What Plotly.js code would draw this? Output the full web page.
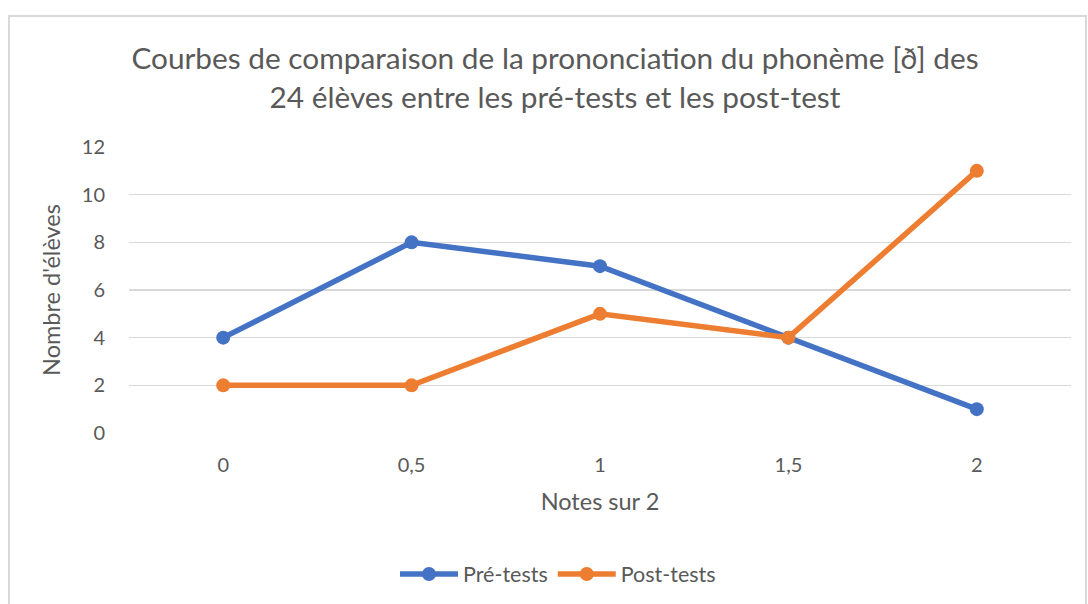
<!DOCTYPE html>
<html>
<head>
<meta charset="utf-8">
<script src="https://cdn.plot.ly/plotly-3.0.1.min.js"></script>
<style>html,body{margin:0;padding:0;background:#fff}#chart{width:1088px;height:604px}</style>
</head>
<body>
<div id="chart"></div>
<script>
const categories = ["0", "0,5", "1", "1,5", "2"];
const preTests = [4, 8, 7, 4, 1];
const postTests = [2, 2, 5, 4, 11];
const seriesNames = ["Pré-tests", "Post-tests"];
const yTicks = [0, 2, 4, 6, 8, 10, 12];

const FONT = "Lato, 'Open Sans', sans-serif";
const TXT = "#595959";

const W = 1088, H = 604;
const L = 129, R = 17, T = 147, B = 171;
const pw = W - L - R, ph = H - T - B;
const px = x => (x - L) / pw;
const py = y => (H - B - y) / ph;

const traces = [
  {x: categories, y: preTests, name: seriesNames[0], type: "scatter", mode: "lines+markers",
   line: {color: "#4472C4", width: 5.5}, marker: {color: "#4472C4", size: 14}},
  {x: categories, y: postTests, name: seriesNames[1], type: "scatter", mode: "lines+markers",
   line: {color: "#ED7D31", width: 5.5}, marker: {color: "#ED7D31", size: 14}}
];

const layout = {
  width: W, height: H,
  margin: {l: L, r: R, t: T, b: B, pad: 0},
  paper_bgcolor: "#fff", plot_bgcolor: "#fff",
  font: {family: FONT, color: TXT, size: 20},
  title: {text: "Courbes de comparaison de la prononciation du phonème [ð] des<br>24 élèves entre les pré-tests et les post-test",
          font: {family: FONT, size: 29.8, color: TXT}, x: 555 / W, xanchor: "center",
          y: 1 - 69 / H, yanchor: "middle", yref: "container"},
  xaxis: {type: "category", range: [-0.5, 4.5], showgrid: false, zeroline: false, showline: false,
          ticks: "", tickfont: {size: 20, color: TXT}, ticklabelstandoff: 18,
          title: {text: "Notes sur 2", font: {size: 23.5, color: TXT}, standoff: 18}},
  yaxis: {range: [0, 12], tickvals: yTicks, showgrid: true, gridcolor: "#d9d9d9", gridwidth: 1.3,
          zeroline: false, showline: false, ticks: "", tickfont: {size: 20, color: TXT},
          ticklabelstandoff: 23,
          title: {text: "Nombre d'élèves", font: {size: 23.5, color: TXT}, standoff: 14}},
  showlegend: true,
  legend: {orientation: "h", x: 558 / W, xref: "container", xanchor: "center",
           y: 1 - 574 / H, yref: "container", yanchor: "middle",
           font: {size: 21.5, color: TXT}, itemwidth: 58, tracegroupgap: 0},
  shapes: [
    {type: "path", xref: "paper", yref: "paper",
     path: `M ${px(9)} ${py(640)} L ${px(9)} ${py(16)} L ${px(1086)} ${py(16)} L ${px(1086)} ${py(640)}`,
     line: {color: "#d9d9d9", width: 2}}
  ]
};

Plotly.newPlot("chart", traces, layout, {staticPlot: true, displayModeBar: false});
</script>
</body>
</html>
